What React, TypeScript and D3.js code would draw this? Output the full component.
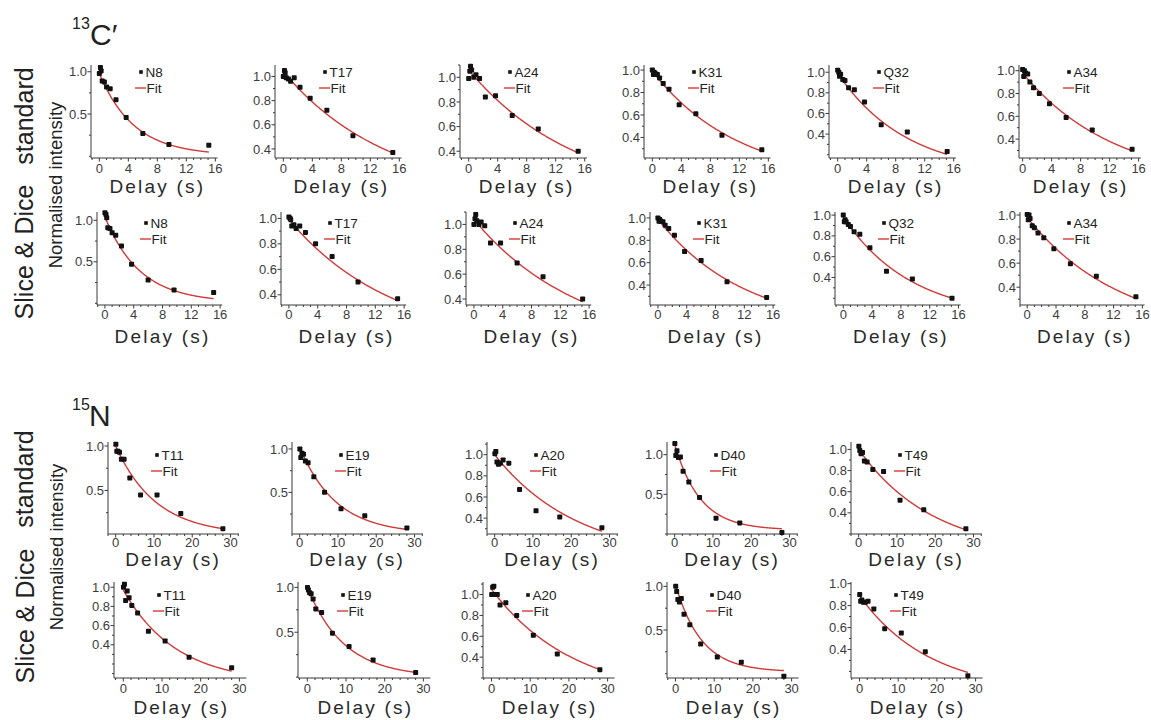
import React from "react";
import * as d3 from "d3";

// ---------------- data ----------------
const delays13C = [0.0, 0.15, 0.25, 0.4, 0.7, 1.0, 1.5, 2.3, 3.7, 6.0, 9.6, 15.1];
const delays15N = [0.05, 0.3, 0.6, 1.0, 1.5, 2.2, 3.7, 6.5, 10.8, 17.0, 28.0];

const residues13C = ["N8", "T17", "A24", "K31", "Q32", "A34"];
const residues15N = ["T11", "E19", "A20", "D40", "T49"];

const c13Standard = [
  [0.98, 1.05, 1.01, 0.89, 0.88, 0.82, 0.8, 0.67, 0.46, 0.27, 0.14, 0.13],
  [1.0, 1.05, 1.03, 0.99, 0.98, 0.96, 0.99, 0.91, 0.82, 0.72, 0.51, 0.37],
  [0.99, 1.05, 1.09, 1.06, 1.0, 1.02, 0.99, 0.84, 0.85, 0.69, 0.58, 0.4],
  [1.0, 0.96, 0.98, 0.97, 0.96, 0.93, 0.88, 0.83, 0.69, 0.61, 0.42, 0.29],
  [1.02, 1.0, 0.96, 0.98, 0.93, 0.92, 0.85, 0.83, 0.71, 0.49, 0.42, 0.23],
  [1.01, 0.95, 1.0, 0.98, 0.97, 0.9, 0.85, 0.8, 0.71, 0.59, 0.48, 0.31],
];
const c13SliceDice = [
  [1.09, 1.07, 1.03, 0.91, 0.9, 0.85, 0.82, 0.69, 0.47, 0.28, 0.16, 0.13],
  [1.01, 1.0, 0.99, 0.94, 0.95, 0.92, 0.94, 0.89, 0.8, 0.7, 0.5, 0.37],
  [1.0, 1.045, 1.08, 1.03, 1.0, 1.02, 0.99, 0.85, 0.85, 0.69, 0.58, 0.4],
  [1.0, 0.97, 0.985, 0.97, 0.965, 0.935, 0.905, 0.845, 0.7, 0.62, 0.43, 0.29],
  [1.0, 0.935, 0.955, 0.935, 0.91, 0.89, 0.84, 0.815, 0.685, 0.46, 0.385, 0.2],
  [1.005, 0.96, 1.0, 0.97, 0.91, 0.895, 0.85, 0.81, 0.72, 0.595, 0.49, 0.32],
];
const n15Standard = [
  [1.02, 0.94, 0.94, 0.93, 0.85, 0.85, 0.64, 0.45, 0.45, 0.24, 0.07],
  [1.0, 0.9, 0.95, 0.94, 0.86, 0.84, 0.68, 0.5, 0.31, 0.23, 0.09],
  [1.01, 1.03, 0.93, 0.91, 0.92, 0.95, 0.92, 0.67, 0.47, 0.41, 0.31],
  [1.14, 0.99, 1.05, 0.965, 0.97, 0.79, 0.655, 0.46, 0.2, 0.14, 0.02],
  [1.03, 0.99, 0.96, 0.97, 0.89, 0.88, 0.81, 0.79, 0.52, 0.43, 0.25],
];
const n15SliceDice = [
  [1.0, 1.03, 0.86, 0.96, 0.89, 0.81, 0.73, 0.54, 0.44, 0.27, 0.16],
  [1.0, 0.97, 0.94, 0.93, 0.87, 0.76, 0.72, 0.49, 0.34, 0.19, 0.05],
  [1.0, 1.07, 1.08, 1.0, 1.0, 0.9, 0.92, 0.8, 0.61, 0.43, 0.28],
  [1.0, 0.94, 0.85, 0.82, 0.86, 0.68, 0.56, 0.34, 0.19, 0.13, -0.03],
  [0.9, 0.84, 0.85, 0.83, 0.83, 0.84, 0.77, 0.59, 0.55, 0.38, 0.16],
];

// fit parameters: [amplitude, rate (1/s), offset]
const c13StandardFit = [
  [0.97, 0.21, 0.01], [1.04, 0.069, 0], [1.06, 0.0667, 0],
  [0.99, 0.084, 0], [0.99, 0.105, 0], [0.98, 0.079, 0],
];
const c13SliceDiceFit = [
  [1.03, 0.205, 0.01], [0.99, 0.068, 0], [1.04, 0.067, 0],
  [0.99, 0.083, 0], [0.98, 0.105, 0], [0.98, 0.077, 0],
];
const n15StandardFit = [
  [1.0, 0.095, 0], [1.0, 0.105, 0.02], [1.0, 0.046, 0], [1.08, 0.15, 0.05], [1.0, 0.051, 0],
];
const n15SliceDiceFit = [
  [0.97, 0.073, 0], [1.0, 0.105, 0], [1.05, 0.047, 0], [1.0, 0.15, 0.02], [0.89, 0.055, 0],
];

// y-axis ranges and tick labels
const c13StandardRange = [[-0.02, 1.08], [0.325, 1.095], [0.345, 1.1], [0.217, 1.045], [0.168, 1.07], [0.234, 1.05]];
const c13SliceDiceRange = [[-0.02, 1.1], [0.32, 1.05], [0.352, 1.1], [0.222, 1.053], [0.135, 1.03], [0.252, 1.025]];
const n15StandardRange = [[0.01, 1.045], [0.02, 1.08], [0.25, 1.12], [0.0, 1.16], [0.2, 1.07]];
const n15SliceDiceRange = [[0.054, 1.054], [-0.01, 1.06], [0.2, 1.12], [-0.05, 1.05], [0.14, 1.015]];

const yTicksHalf = [0.5, 1.0];
const yTicksFifth = [0.4, 0.6, 0.8, 1.0];
const c13StandardYTicks = [yTicksHalf, yTicksFifth, yTicksFifth, yTicksFifth, yTicksFifth, yTicksFifth];
const c13SliceDiceYTicks = [yTicksHalf, yTicksFifth, yTicksFifth, yTicksFifth, yTicksFifth, yTicksFifth];
const n15StandardYTicks = [yTicksHalf, yTicksHalf, yTicksFifth, yTicksHalf, yTicksFifth];
const n15SliceDiceYTicks = [yTicksFifth, yTicksHalf, yTicksFifth, yTicksHalf, yTicksFifth];

const xTicks13C = [0, 4, 8, 12, 16];
const xTicks15N = [0, 10, 20, 30];

// ---------------- layout ----------------
const rowLayouts = [
  { lefts: [91, 275, 460, 644, 829, 1019], xMins: [-1.15, -1.15, -1.2, -1.15, -1.2, -0.5], xMax: 16.3, ppu: 7.25, top: 65, bottom: 158, tickDy: 15, delayDy: 35, legendDx: 50, legendDy: 7, minorX: 1, delayMid: 8 },
  { lefts: [97, 281, 466, 650, 835, 1020], xMins: [-1.1, -1.1, -1.1, -1.1, -1.15, -1.0], xMax: 16.3, ppu: 7.2, top: 212, bottom: 305, tickDy: 14, delayDy: 38, legendDx: 49, legendDy: 11, minorX: 1, delayMid: 8 },
  { lefts: [108, 292, 487, 667, 851], xMins: [-2, -2, -2, -2, -2], xMax: 32.2, ppu: 3.83, top: 442, bottom: 534, tickDy: 13, delayDy: 32, legendDx: 49, legendDy: 13, minorX: 2, delayMid: 15 },
  { lefts: [114, 298, 483, 667, 851], xMins: [-2.4, -2.4, -2.2, -2.2, -2.2], xMax: 31.8, ppu: 3.87, top: 582, bottom: 678, tickDy: 15, delayDy: 36, legendDx: 45, legendDy: 13, minorX: 2, delayMid: 15 },
];

const rowData = [
  { labels: residues13C, delays: delays13C, values: c13Standard, fits: c13StandardFit, ranges: c13StandardRange, yTicks: c13StandardYTicks, xTicks: xTicks13C },
  { labels: residues13C, delays: delays13C, values: c13SliceDice, fits: c13SliceDiceFit, ranges: c13SliceDiceRange, yTicks: c13SliceDiceYTicks, xTicks: xTicks13C },
  { labels: residues15N, delays: delays15N, values: n15Standard, fits: n15StandardFit, ranges: n15StandardRange, yTicks: n15StandardYTicks, xTicks: xTicks15N },
  { labels: residues15N, delays: delays15N, values: n15SliceDice, fits: n15SliceDiceFit, ranges: n15SliceDiceRange, yTicks: n15SliceDiceYTicks, xTicks: xTicks15N },
];

const FONT = "'Liberation Sans', Arial, Helvetica, sans-serif";
const AXIS = "#3a3a3a";
const TICKTXT = "#3c3c3c";
const RED = "#d23a3a";

function Panel({ row, i }: { row: number; i: number }) {
  const L = rowLayouts[row];
  const D = rowData[row];
  const left = L.lefts[i];
  const xMin = L.xMins[i];
  const x = d3.scaleLinear().domain([xMin, L.xMax]).range([left, left + (L.xMax - xMin) * L.ppu]);
  const [y0, y1] = D.ranges[i];
  const y = d3.scaleLinear().domain([y0, y1]).range([L.bottom, L.top]);
  const fit = D.fits[i];
  const vals = D.values[i];
  const delays = D.delays;
  const maxD = d3.max(delays) as number;
  const curvePts: [number, number][] = d3.range(0, 241).map((k) => {
    const t = (maxD * k) / 240;
    return [t, fit[0] * Math.exp(-fit[1] * t) + fit[2]];
  });
  const line = d3.line<[number, number]>().x((d) => x(d[0])).y((d) => y(d[1]));

  const yLabels = D.yTicks[i];
  const yStep = yLabels[1] - yLabels[0] > 0.3 ? 0.25 : 0.1;
  const yTickVals = d3.range(Math.ceil(y0 / yStep - 1e-6) * yStep, y1 + 1e-9, yStep).filter((v) => v >= y0 - 1e-9 && v <= y1 + 1e-9);
  const xTickVals = d3.range(Math.ceil(xMin / L.minorX) * L.minorX, L.xMax + 1e-9, L.minorX);
  const isLabelY = (v: number) => yLabels.some((l) => Math.abs(l - v) < 1e-6);
  const isLabelX = (v: number) => D.xTicks.some((l) => Math.abs(l - v) < 1e-6);
  const xEnd = x(L.xMax);

  const lx = left + L.legendDx;
  const ly = L.top + L.legendDy;

  return (
    <g>
      <line x1={left} x2={left} y1={L.top} y2={L.bottom} stroke={AXIS} strokeWidth={1} />
      <line x1={left} x2={xEnd} y1={L.bottom} y2={L.bottom} stroke={AXIS} strokeWidth={1} />
      {yTickVals.map((v, k) => (
        <line key={"yt" + k} x1={left} x2={left - (isLabelY(v) ? 3.5 : 2)} y1={y(v)} y2={y(v)} stroke={AXIS} strokeWidth={1} />
      ))}
      {xTickVals.map((v, k) => (
        <line key={"xt" + k} x1={x(v)} x2={x(v)} y1={L.bottom} y2={L.bottom + (isLabelX(v) ? 3.5 : 2)} stroke={AXIS} strokeWidth={1} />
      ))}
      {yLabels.map((v) => (
        <text key={"yl" + v} x={left - 4} y={y(v) + 4.6} textAnchor="end" fontSize={13} fontFamily={FONT} fill={TICKTXT}>
          {v.toFixed(1)}
        </text>
      ))}
      {D.xTicks.map((v) => (
        <text key={"xl" + v} x={x(v)} y={L.bottom + L.tickDy} textAnchor="middle" fontSize={13} fontFamily={FONT} fill={TICKTXT}>
          {v}
        </text>
      ))}
      <text x={x(L.delayMid)} y={L.bottom + L.delayDy} textAnchor="middle" fontSize={19} fontFamily={FONT} fill="#2a2a2a" letterSpacing={2.2}>
        Delay (s)
      </text>
      <path d={line(curvePts) || ""} fill="none" stroke={RED} strokeWidth={1.4} />
      {vals.map((v, k) => (
        <rect key={"p" + k} x={x(delays[k]) - 2.5} y={y(v) - 2.5} width={5} height={5} rx={0.8} fill="#111" />
      ))}
      <rect x={lx - 1.8} y={ly - 1.8} width={3.6} height={3.6} fill="#111" />
      <text x={lx + 4.5} y={ly + 4.8} fontSize={13.5} fontFamily={FONT} fill="#222">{D.labels[i]}</text>
      <line x1={lx - 6} x2={lx + 5} y1={ly + 16} y2={ly + 16} stroke={RED} strokeWidth={1.4} />
      <text x={lx + 5.5} y={ly + 20.8} fontSize={13.5} fontFamily={FONT} fill="#222">Fit</text>
    </g>
  );
}

function SideLabels() {
  const rot = (x: number, y: number) => `translate(${x},${y}) rotate(-90)`;
  return (
    <g fontFamily={FONT} fill="#222">
      <text x={72} y={29} fontSize={16}>13</text>
      <text x={90} y={45} fontSize={30}>C′</text>
      <text x={72} y={410} fontSize={16}>15</text>
      <text x={89} y={426} fontSize={30}>N</text>

      <text transform={rot(33, 116)} textAnchor="middle" fontSize={25}>standard</text>
      <text transform={rot(33, 252)} textAnchor="middle" fontSize={25}>Slice &amp; Dice</text>
      <text transform={rot(62, 185)} textAnchor="middle" fontSize={18.5}>Normalised intensity</text>

      <text transform={rot(33, 479)} textAnchor="middle" fontSize={25}>standard</text>
      <text transform={rot(34, 616)} textAnchor="middle" fontSize={25}>Slice &amp; Dice</text>
      <text transform={rot(63, 547)} textAnchor="middle" fontSize={18.5}>Normalised intensity</text>
    </g>
  );
}

export default function App() {
  return (
    <div style={{ position: "absolute", left: 0, top: 0 }}>
      <svg width={1151} height={720} style={{ display: "block", background: "#fff" }}>
        <SideLabels />
        {rowData.map((r, row) =>
          r.labels.map((_, i) => <Panel key={row + "-" + i} row={row} i={i} />)
        )}
      </svg>
    </div>
  );
}
